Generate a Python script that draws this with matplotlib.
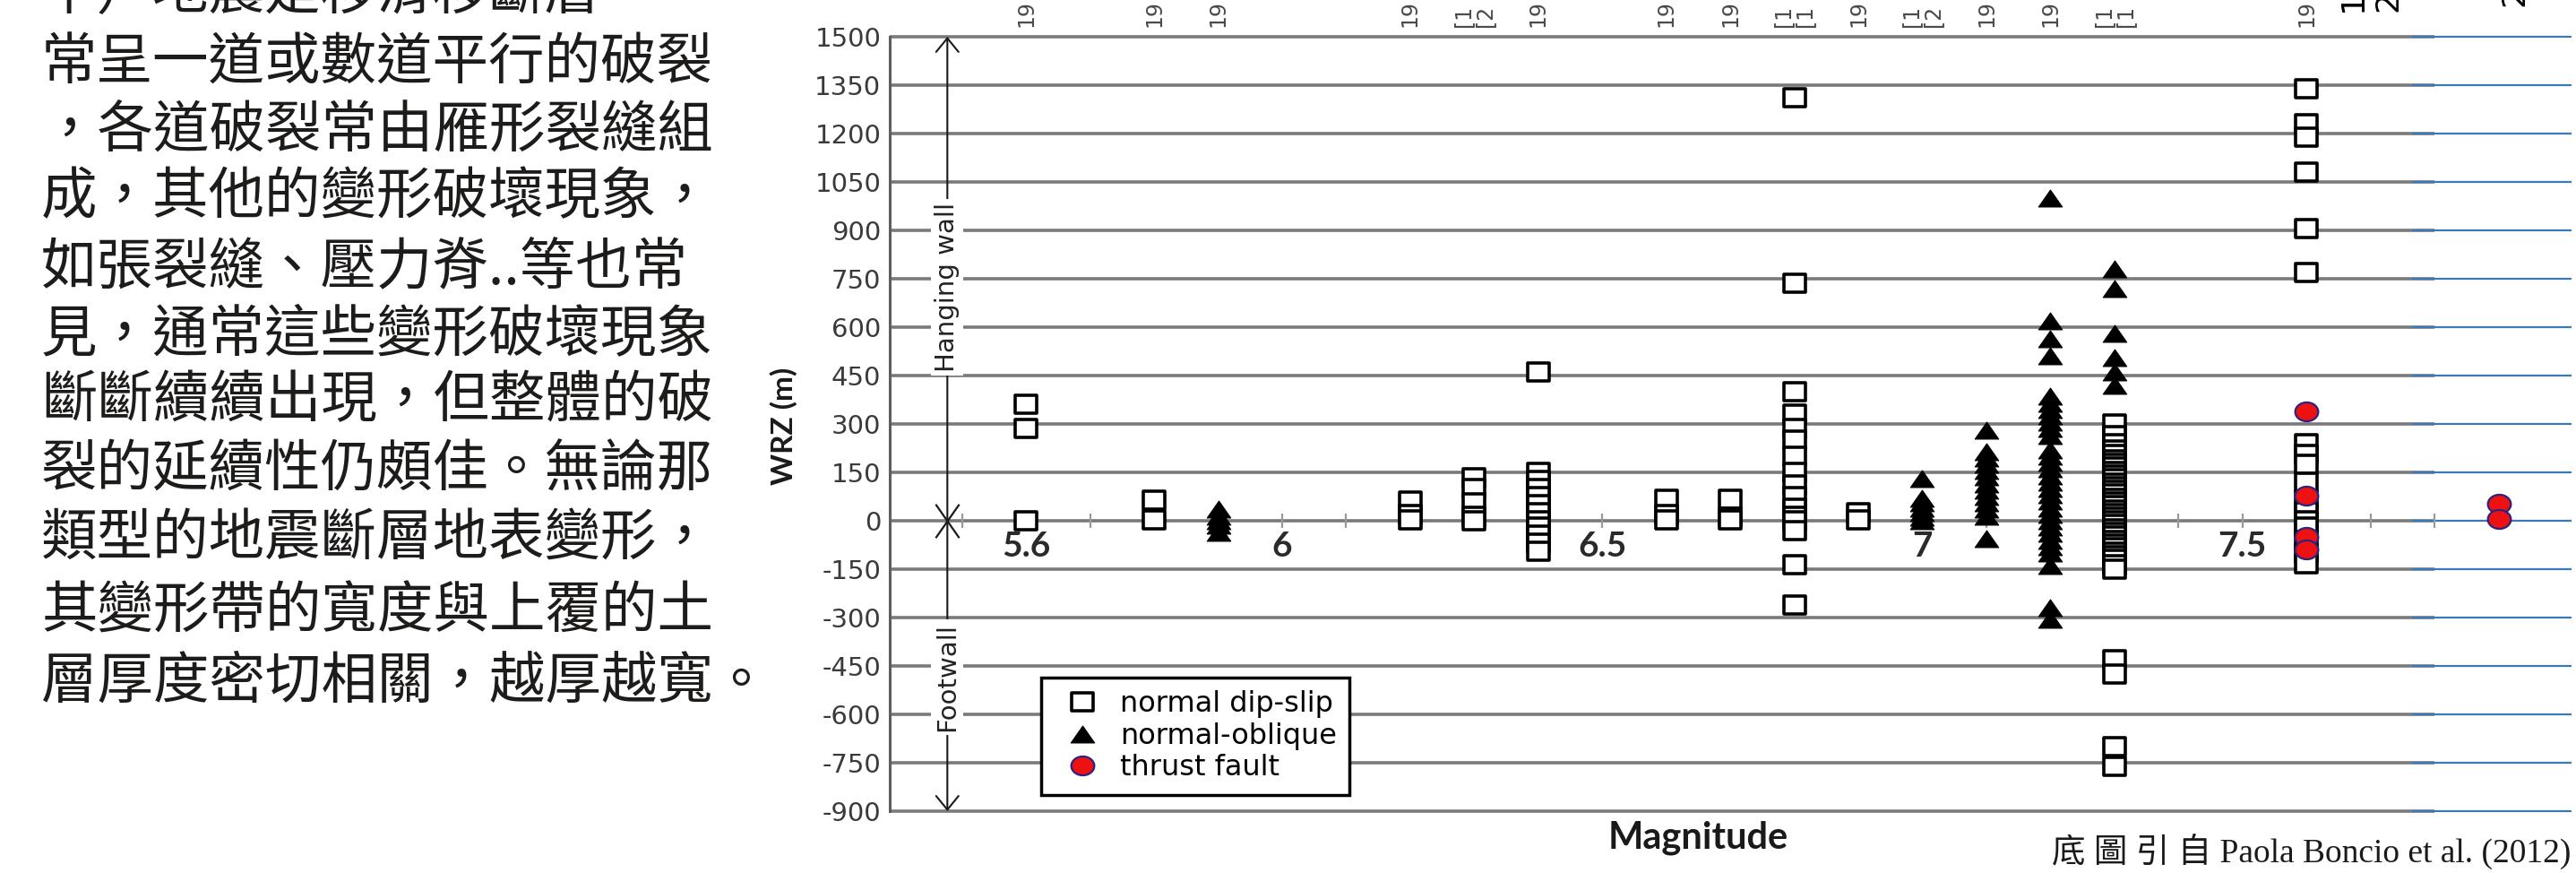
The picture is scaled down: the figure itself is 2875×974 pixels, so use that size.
import numpy as np
import matplotlib
matplotlib.use('Agg')
import matplotlib.pyplot as plt
import matplotlib.transforms as mtransforms
from matplotlib.path import Path
from matplotlib.lines import Line2D
from matplotlib.ticker import FixedLocator

# 左側說明文字 (第一行在畫面上方被切掉)
text_lines = [
    '平）地震是移滑移斷層',
    '常呈一道或數道平行的破裂',
    '，各道破裂常由雁形裂縫組',
    '成，其他的變形破壞現象，',
    '如張裂縫、壓力脊..等也常',
    '見，通常這些變形破壞現象',
    '斷斷續續出現，但整體的破',
    '裂的延續性仍頗佳。無論那',
    '類型的地震斷層地表變形，',
    '其變形帶的寬度與上覆的土',
    '層厚度密切相關，越厚越寬。',
]

# WRZ (m) 依規模分組
normal_dip_slip = {
    5.6: [360, 285, 0],
    5.8: [63, 3],
    6.2: [62, 20, 3],
    6.3: [133, 100, 55, 15, 0],
    6.4: [460, 150, 125, 100, 75, 50, 25, 0, -20, -45, -70, -95],
    6.6: [67, 20, 3],
    6.7: [67, 10, 3],
    6.8: [1310, 735, 400, 330, 285, 250, 200, 150, 110, 75, 40, 15, 0, -30, -136, -262],
    6.9: [25, 3],
    7.3: [300, 265, 240, 220, 205, 190, 178, 166, 154, 142, 130, 118, 106, 94, 82,
          70, 58, 46, 34, 22, 10, 0, -12, -24, -36, -48, -60, -72, -84, -96, -108,
          -120, -135, -150, -430, -475, -700, -760],
    7.6: [1340, 1230, 1190, 1080, 905, 770, 240, 205, 175, 120, 65, 27, 0,
          -20, -60, -100, -134],
}
normal_oblique = {
    5.9: [35, 15, 0, -15, -35],
    7.0: [130, 70, 55, 40, 25, 10, 0],
    7.1: [280, 215, 195, 175, 155, 135, 115, 95, 75, 55, 35, 15, -55],
    7.2: [1000, 620, 565, 510, 385, 365, 345, 325, 305, 285, 265, 220, 200, 180,
          160, 140, 120, 100, 80, 60, 40, 20, 0, -20, -40, -60, -80, -100, -140,
          -270, -305],
    7.3: [780, 720, 580, 505, 460, 420],
}
thrust_fault = {
    7.6: [340, 78, -50, -88],
    7.9: [52, 5],
}

# 座標軸
y_ticks = [1500, 1350, 1200, 1050, 900, 750, 600, 450, 300, 150, 0,
           -150, -300, -450, -600, -750, -900]
x_major = [5.6, 6.0, 6.5, 7.0, 7.5]
x_major_labels = ['5.6', '6', '6.5', '7', '7.5']
x_minor = [5.5, 5.7, 5.8, 5.9, 6.1, 6.2, 6.3, 6.4, 6.6, 6.7, 6.8, 6.9,
           7.1, 7.2, 7.3, 7.4, 7.6, 7.7, 7.8]

# 上方被切掉的事件標籤
top_label_m = [5.6, 5.8, 5.9, 6.2, 6.3, 6.4, 6.6, 6.7, 6.8, 6.9, 7.0, 7.1, 7.2, 7.3, 7.6]
top_labels = ['19', '19', '19', '19', '[1\n[2', '19', '19', '19', '[1\n[1', '19',
              '[1\n[2', '19', '19', '[1\n[1', '19']


def flatten(d):
    xs = [m for m, vals in d.items() for v in vals]
    ys = [v for m, vals in d.items() for v in vals]
    return xs, ys


# 標記形狀 (原圖被水平拉寬)
rect = Path([(-1.25, -1), (1.25, -1), (1.25, 1), (-1.25, 1), (-1.25, -1)],
            [Path.MOVETO, Path.LINETO, Path.LINETO, Path.LINETO, Path.CLOSEPOLY])
tri = Path([(0, 1), (-1.4, -1), (1.4, -1), (0, 1)],
           [Path.MOVETO, Path.LINETO, Path.LINETO, Path.CLOSEPOLY])
t = np.linspace(0, 2 * np.pi, 61)
ell = Path(np.column_stack([1.22 * np.cos(t), np.sin(t)]), closed=True)
cross = Path([(-0.7, -1), (0.7, 1), (-0.7, 1), (0.7, -1)],
             [Path.MOVETO, Path.LINETO, Path.MOVETO, Path.LINETO])

sq_style = dict(ls='none', marker=rect, ms=17.5, mfc='white', mec='black', mew=2.6)
tri_style = dict(ls='none', marker=tri, ms=19, mfc='black', mec='black', mew=0.8)
red_style = dict(ls='none', marker=ell, ms=18.5, mfc='#ee1111', mec='#2d2280', mew=1.6)

W, H = 2875, 974
fig = plt.figure(figsize=(W / 100, H / 100), dpi=100)
ax = fig.add_axes([993 / W, 1 - 905 / H, (2870 - 993) / W, (905 - 41) / H])
x_left, x_right = 5.387, 8.014
ax.set_xlim(x_left, x_right)
ax.set_ylim(-900, 1500)

# 格線: 灰色 + 右側藍色延伸
ax.hlines(y_ticks, x_left, 7.80, color='#7a7a7a', lw=2.6, zorder=1, clip_on=False)
ax.hlines(y_ticks, 7.765, x_right, color='#3b78b8', lw=1.6, zorder=1.5, clip_on=False)

for s in ['top', 'right']:
    ax.spines[s].set_visible(False)
ax.spines['left'].set_color('#5e5e5e')
ax.spines['left'].set_linewidth(2.2)
ax.spines['bottom'].set_position(('data', 0))
ax.spines['bottom'].set_color('none')

ax.set_yticks(y_ticks)
ax.set_yticklabels([str(v) for v in y_ticks], fontsize=21, color='#3a3a3a')
ax.tick_params(axis='y', length=0, pad=7)

ax.xaxis.set_major_locator(FixedLocator(x_major))
ax.xaxis.set_minor_locator(FixedLocator(x_minor))
ax.set_xticklabels(x_major_labels, fontsize=28, fontweight='bold', color='#2a2a2a',
                   family=['Lato', 'DejaVu Sans'])
ax.tick_params(axis='x', which='both', direction='inout', length=12, width=1.6,
               color='#9a9a9a', pad=2)

# 資料點
x, y = flatten(normal_dip_slip)
ax.plot(x, y, zorder=3, **sq_style)
x, y = flatten(normal_oblique)
ax.plot(x, y, zorder=3.5, **tri_style)
x, y = flatten(thrust_fault)
ax.plot(x, y, zorder=4, **red_style)

# 上盤 / 下盤箭頭
arrow_m = 5.477
ax.annotate('', xy=(arrow_m, 1500), xytext=(arrow_m, -900), annotation_clip=False,
            arrowprops=dict(arrowstyle='<->,head_length=1.1,head_width=0.9',
                            mutation_scale=10, color='#1a1a1a', lw=1.5,
                            shrinkA=0, shrinkB=0), zorder=2)
ax.plot([arrow_m], [0], marker=cross, ms=27, mfc='none', mec='#1a1a1a', mew=1.6, zorder=2)
ax.text(arrow_m, 723, 'Hanging wall', rotation=90, ha='center', va='center',
        fontsize=21, color='#222222', zorder=5,
        bbox=dict(fc='white', ec='none', pad=3))
ax.text(arrow_m, -485, 'Footwall', rotation=90, ha='center', va='center',
        fontsize=21, color='#222222', zorder=5,
        bbox=dict(fc='white', ec='none', pad=3))

# 圖例
handles = [Line2D([], [], **sq_style), Line2D([], [], **tri_style), Line2D([], [], **red_style)]
leg = ax.legend(handles, ['normal dip-slip', 'normal-oblique', 'thrust fault'],
                loc='lower left', bbox_to_anchor=(0.090, 0.021), borderaxespad=0,
                frameon=True, fancybox=False, edgecolor='black', framealpha=1,
                fontsize=23, handlelength=2.0, handletextpad=0.3,
                labelspacing=0.15, borderpad=0.45)
leg.get_frame().set_linewidth(2.5)
leg.set_zorder(6)

# 上方標籤
trans = mtransforms.blended_transform_factory(ax.transData, fig.transFigure)
for m, lab in zip(top_label_m, top_labels):
    ax.text(m, 1 - 30 / H, lab, transform=trans, rotation=90, ha='center', va='bottom',
            fontsize=17, color='#4a4a4a', linespacing=1.0)
ax.text(7.70, 1 - 13 / H, '1\n2', transform=trans, rotation=90, ha='center', va='bottom',
        fontsize=26, color='black')
ax.text(7.925, 1 - 7 / H, '2', transform=trans, rotation=90, ha='center', va='bottom',
        fontsize=26, color='black')

fig.text(875 / W, 1 - 475 / H, 'WRZ (m)', rotation=90, ha='center', va='center',
         fontsize=24, fontweight='bold', family=['Lato', 'DejaVu Sans'], color='#1a1a1a')
fig.text(1895 / W, 1 - 935 / H, 'Magnitude', ha='center', va='center',
         fontsize=30, fontweight='bold', family=['Lato', 'DejaVu Sans'], color='#1a1a1a')
fig.text(2869 / W, 1 - 950 / H, '底 圖 引 自 Paola Boncio et al. (2012)', ha='right', va='center',
         fontsize=27, family=['Liberation Serif', 'Noto Sans CJK TC'], color='#1a1a1a')

# 左側文字
line_y = [-8, 71, 146, 220, 298, 373, 447, 525, 602, 683, 761]
for yy, s in zip(line_y, text_lines):
    fig.text(46 / W, 1 - yy / H, s, ha='left', va='center', fontsize=45,
             family=['Noto Sans CJK TC', 'DejaVu Sans'], color='#1e1c1a')

fig.savefig('out.png', dpi=100)
